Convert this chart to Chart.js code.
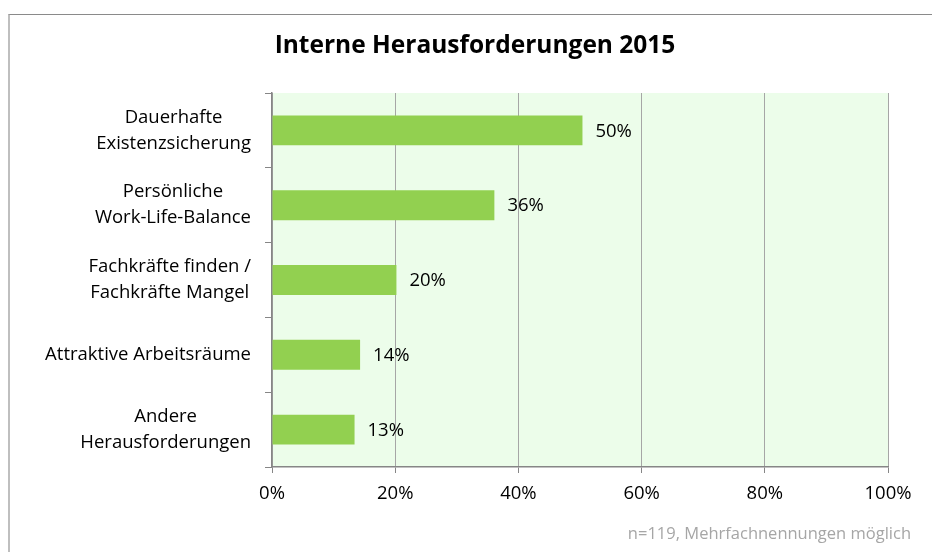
<!DOCTYPE html>
<html>
<head>
<meta charset="utf-8">
<script src="https://cdn.jsdelivr.net/npm/chart.js@4.4.1/dist/chart.umd.min.js"></script>
<style>
  html, body { margin: 0; padding: 0; background: #fff; overflow: hidden; }
  #frame { position: absolute; left: 8px; top: 14px; width: 1000px; height: 1000px;
           border-left: 2px solid #bfbfbf; border-top: 1px solid #8a8a8a; }
  #wrap { position: absolute; left: 0; top: 0; width: 932px; height: 552px; }
</style>
</head>
<body>
<div id="frame"></div>
<div id="wrap"><canvas id="chart" width="932" height="552"></canvas></div>
<script>
var categories = [
    ['Dauerhafte', 'Existenzsicherung'],
    ['Persönliche', 'Work-Life-Balance'],
    ['Fachkräfte finden /', 'Fachkräfte Mangel'],
    ['Attraktive Arbeitsräume'],
    ['Andere', 'Herausforderungen']
];
var values = [50.4, 36.1, 20.2, 14.3, 13.4];
var xTicks = [0, 20, 40, 60, 80, 100];
var title = 'Interne Herausforderungen 2015';
var footnote = 'n=119, Mehrfachnennungen möglich';

var FONT = '"Open Sans", Lato, sans-serif';

var decor = {
    id: 'decor',
    beforeDraw: function (chart) {
        var a = chart.chartArea, ctx = chart.ctx;
        ctx.save();
        ctx.fillStyle = '#ecfdea';
        ctx.fillRect(a.left, a.top, a.right - a.left, a.bottom - a.top);
        ctx.restore();
    },
    afterDraw: function (chart) {
        var ctx = chart.ctx, yScale = chart.scales.y;
        ctx.save();
        // title
        ctx.fillStyle = '#000';
        ctx.font = 'bold 24.5px ' + FONT;
        ctx.textAlign = 'center';
        ctx.textBaseline = 'middle';
        ctx.fillText(title, 475, 46);

        // category labels
        ctx.font = '18.5px ' + FONT;
        categories.forEach(function (lines, i) {
            var yc = yScale.getPixelForValue(i);
            var w = 0;
            lines.forEach(function (l) { w = Math.max(w, ctx.measureText(l).width); });
            var cx = 251 - w / 2;
            var lh = 26;
            lines.forEach(function (l, j) {
                ctx.fillText(l, cx, yc + (j - (lines.length - 1) / 2) * lh);
            });
        });

        // value labels
        ctx.textAlign = 'left';
        chart.getDatasetMeta(0).data.forEach(function (bar, i) {
            ctx.fillText(Math.round(values[i]) + '%', bar.x + 13, bar.y + 1);
        });

        // footnote
        ctx.font = '16.5px ' + FONT;
        ctx.fillStyle = '#a6a6a6';
        ctx.textAlign = 'right';
        ctx.fillText(footnote, 911, 534);
        ctx.restore();
    }
};

new Chart(document.getElementById('chart').getContext('2d'), {
    type: 'bar',
    data: {
        labels: categories,
        datasets: [{
            data: values,
            backgroundColor: '#92d050',
            borderWidth: 0,
            categoryPercentage: 0.4,
            barPercentage: 1
        }]
    },
    options: {
        indexAxis: 'y',
        responsive: false,
        animation: false,
        layout: { padding: { left: 264, right: 44, top: 93, bottom: 0 } },
        plugins: {
            legend: { display: false },
            title: { display: false },
            tooltip: { enabled: false }
        },
        scales: {
            x: {
                min: 0,
                max: 100,
                afterBuildTicks: function (scale) {
                    scale.ticks = xTicks.map(function (v) { return { value: v }; });
                },
                afterFit: function (scale) { scale.height = 85; },
                grid: {
                    color: '#a6a6a6',
                    lineWidth: 1,
                    tickLength: 6,
                    tickColor: '#868686'
                },
                border: { color: '#868686', width: 1.5 },
                ticks: {
                    padding: 10,
                    color: '#000',
                    font: { family: FONT, size: 18.5 },
                    callback: function (v) { return v + '%'; }
                }
            },
            y: {
                afterFit: function (scale) { scale.width = 8; },
                grid: {
                    drawOnChartArea: false,
                    tickLength: 7,
                    color: '#868686',
                    offset: true
                },
                border: { color: '#868686', width: 1.5 },
                ticks: { display: false }
            }
        }
    },
    plugins: [decor]
});
</script>
</body>
</html>
